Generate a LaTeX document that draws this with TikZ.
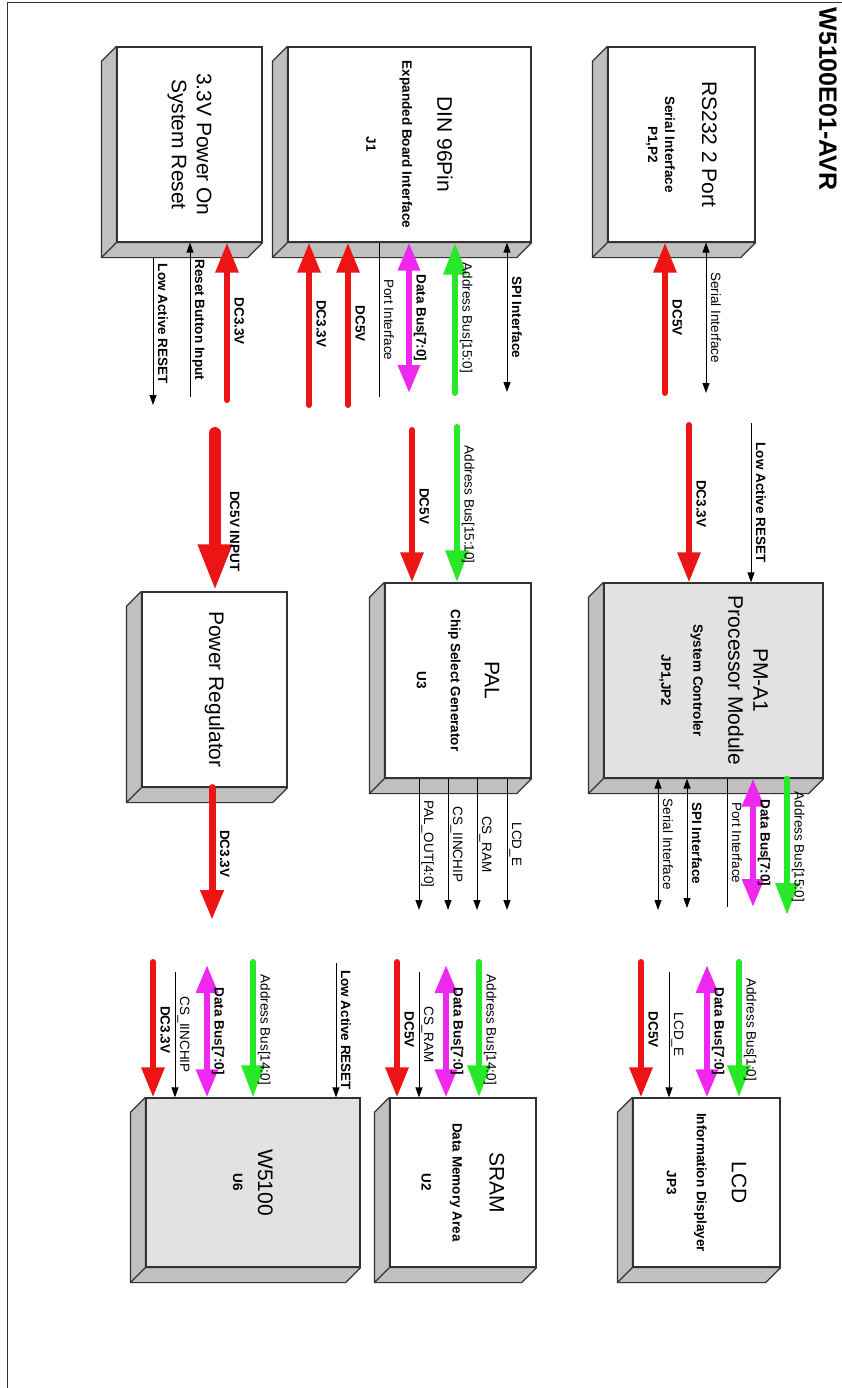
\documentclass[tikz,border=0pt]{standalone}
\usepackage{fontspec}
\setmainfont{Liberation Sans}
\usetikzlibrary{arrows.meta}
\definecolor{pwrred}{RGB}{236,20,20}
\definecolor{busgreen}{RGB}{40,232,40}
\definecolor{busmag}{RGB}{238,40,238}
\definecolor{boxline}{RGB}{50,50,50}
\definecolor{slabgray}{RGB}{192,192,192}
\definecolor{facegray}{RGB}{226,226,226}
\newcommand{\bxsub}[1]{{\fontsize{13.5}{16}\selectfont\bfseries #1}}

\begin{document}
\begin{tikzpicture}[
    x=1pt, y=-1pt,
    >={Triangle[width=7pt,length=10pt]},
    every node/.style={font=\fontsize{13.5}{16}\selectfont},
    blk/.style={draw=boxline, line width=1.2pt, fill=white, rotate=-90,
        inner sep=0pt, align=center, minimum width=195pt,
        font=\fontsize{21}{25}\selectfont},
    slab/.style={draw=boxline, line width=1.2pt, fill=slabgray, line join=round},
    lbl/.style={rotate=-90, anchor=south, inner sep=1.5pt, text depth=3pt},
    bf/.style={lbl, font=\fontsize{13.5}{16}\selectfont\bfseries},
    sig/.style={line width=1pt},
    dc/.style={draw=pwrred, line width=6pt, line cap=round,
        >={Triangle[width=22pt,length=30pt]}, ->},
    dcin/.style={draw=pwrred, line width=12pt, line cap=round,
        >={Triangle[width=31pt,length=47pt]}, ->},
    adrbus/.style={draw=busgreen, line width=6pt, line cap=round,
        >={Triangle[width=22pt,length=32pt]}, ->},
    databus/.style={draw=busmag, line width=6pt,
        >={Triangle[width=21pt,length=28pt]}, <->}
]
\useasboundingbox (0,0) rectangle (842,1388);
\draw[boxline, line width=1pt] (7,1388) -- (7,3) -- (842,3);

\node[rotate=-90, font=\fontsize{25}{30}\selectfont\bfseries] (title) at (828,99) {W5100E01-AVR};

\node[blk, minimum height=147pt] (rs) at (681.5,144.5)
    {RS232 2 Port\\[12pt]\bxsub{Serial Interface}\\[-8pt]\bxsub{P1,P2}};
\node[blk, minimum height=243pt] (din) at (409.5,144.5)
    {DIN 96Pin\\[10pt]\bxsub{Expanded Board Interface}\\[11pt]\bxsub{J1}};
\node[blk, minimum height=145pt] (por) at (189.5,144.5)
    {3.3V Power On\\System Reset};
\node[blk, fill=facegray, minimum height=219pt] (pm) at (713.5,680.5)
    {PM-A1\\Processor Module\\[10pt]\bxsub{System Controler}\\[7pt]\bxsub{JP1,JP2}};
\node[blk, minimum height=146pt] (pal) at (458,680.5)
    {PAL\\[9pt]\bxsub{Chip Select Generator}\\[9pt]\bxsub{U3}};
\node[blk, minimum height=145pt] (reg) at (214.5,689.5) {Power Regulator};
\node[blk, minimum width=169pt, minimum height=147pt] (lcd) at (706.5,1182.5)
    {LCD\\[10pt]\bxsub{Information Displayer}\\[5pt]\bxsub{JP3}};
\node[blk, minimum width=169pt, minimum height=146pt] (ram) at (463,1182.5)
    {SRAM\\[12pt]\bxsub{Data Memory Area}\\[6pt]\bxsub{U2}};
\node[blk, fill=facegray, minimum width=169pt, minimum height=214pt] (w51) at (253,1182.5)
    {W5100\\\bxsub{U6}};

\foreach \b in {rs,din,por,pm,pal,reg,lcd,ram,w51}{
    \filldraw[slab] (\b.south west) -- ++(-15,15)
        -- ([shift={(-15,15)}]\b.south east) -- ([shift={(-15,15)}]\b.north east)
        -- (\b.north east) -- (\b.south east) -- cycle
        (\b.south east) -- ++(-15,15);
}

\coordinate (rs5v) at (665,393);
\coordinate (rsser) at (706,393);
\coordinate (pmrst) at (751,423);
\coordinate (pm33) at (689,425);
\draw[dc] (rs5v) -- node[bf,midway]{DC5V} (rs5v |- rs.east);
\draw[sig,<->] (rs.east -| rsser) -- node[lbl,midway]{Serial Interface} (rsser);
\draw[sig,->] (pmrst) -- node[bf,midway]{Low Active RESET} (pmrst |- pm.west);
\draw[dc] (pm33) -- node[bf,midway]{DC3.3V} (pm33 |- pm.west);

\coordinate (dinspi) at (507,392);
\coordinate (dinadr) at (455,393);
\coordinate (dindat) at (409,393);
\coordinate (dinport) at (379,397);
\coordinate (din5v) at (348,405);
\coordinate (din33) at (309,405);
\draw[sig,<->] (din.east -| dinspi) -- node[bf,midway]{SPI Interface} (dinspi);
\draw[adrbus] (dinadr) -- node[lbl,midway]{Address Bus[15:0]} (dinadr |- din.east);
\draw[databus] (din.east -| dindat) -- node[bf,midway]{Data Bus[7:0]} (dindat);
\draw[sig] (din.east -| dinport) -- node[lbl,midway]{Port Interface} (dinport);
\draw[dc] (din5v) -- node[bf,midway]{DC5V} (din5v |- din.east);
\draw[dc] (din33) -- node[bf,midway]{DC3.3V} (din33 |- din.east);

\coordinate (paladr) at (457,427);
\coordinate (pal5v) at (412,430);
\draw[adrbus] (paladr) -- node[lbl,midway]{Address Bus[15:10]} (paladr |- pal.west);
\draw[dc] (pal5v) -- node[bf,midway]{DC5V} (pal5v |- pal.west);

\coordinate (por33) at (227,400);
\coordinate (porbtn) at (190,397);
\coordinate (porrst) at (153,405);
\draw[dc] (por33) -- node[bf,midway]{DC3.3V} (por33 |- por.east);
\draw[sig,->] (porbtn) -- node[bf,midway]{Reset Button Input} (porbtn |- por.east);
\draw[sig,->,shorten <=15pt] (por.east -| porrst) -- node[bf,midway]{Low Active RESET} (porrst);

\coordinate (reg5v) at (215,433);
\draw[dcin] (reg5v) -- node[bf,pos=0.62,inner sep=6pt]{DC5V INPUT} (reg5v |- reg.west);

\coordinate (pmadr) at (787,915);
\coordinate (pmdat) at (753,907);
\coordinate (pmport) at (727,907);
\coordinate (pmspi) at (687,908);
\coordinate (pmser) at (658,910);
\draw[adrbus] (pm.east -| pmadr) -- node[lbl,midway]{Address Bus[15:0]} (pmadr);
\draw[databus] (pm.east -| pmdat) -- node[bf,midway]{Data Bus[7:0]} (pmdat);
\draw[sig] (pm.east -| pmport) -- node[lbl,midway]{Port Interface} (pmport);
\draw[sig,<->] (pm.east -| pmspi) -- node[bf,midway]{SPI Interface} (pmspi);
\draw[sig,<->] (pm.east -| pmser) -- node[lbl,midway]{Serial Interface} (pmser);

\coordinate (pale) at (507,910);
\coordinate (palram) at (477,910);
\coordinate (palchip) at (448,910);
\coordinate (palout) at (419,910);
\draw[sig,->] (pal.east -| pale) -- node[lbl,midway]{LCD\_E} (pale);
\draw[sig,->] (pal.east -| palram) -- node[lbl,midway]{CS\_RAM} (palram);
\draw[sig,->] (pal.east -| palchip) -- node[lbl,midway]{CS\_IINCHIP} (palchip);
\draw[sig,->] (pal.east -| palout) -- node[lbl,midway]{PAL\_OUT[4:0]} (palout);

\coordinate (reg33) at (212,920);
\draw[dc, line width=7pt] (reg.east -| reg33) -- node[bf,midway]{DC3.3V} (reg33);

\coordinate (lcdadr) at (739,962);
\coordinate (lcddat) at (707,965);
\coordinate (lcde) at (669,972);
\coordinate (lcd5v) at (641,962);
\draw[adrbus] (lcdadr) -- node[lbl,midway]{Address Bus[1:0]} (lcdadr |- lcd.west);
\draw[databus] (lcddat) -- node[bf,midway]{Data Bus[7:0]} (lcddat |- lcd.west);
\draw[sig,->] (lcde) -- node[lbl,midway]{LCD\_E} (lcde |- lcd.west);
\draw[dc] (lcd5v) -- node[bf,midway]{DC5V} (lcd5v |- lcd.west);

\coordinate (ramadr) at (479,962);
\coordinate (ramdat) at (446,965);
\coordinate (ramcs) at (419,972);
\coordinate (ram5v) at (397,962);
\draw[adrbus] (ramadr) -- node[lbl,midway]{Address Bus[14:0]} (ramadr |- ram.west);
\draw[databus] (ramdat) -- node[bf,midway]{Data Bus[7:0]} (ramdat |- ram.west);
\draw[sig,->] (ramcs) -- node[lbl,midway]{CS\_RAM} (ramcs |- ram.west);
\draw[dc] (ram5v) -- node[bf,midway]{DC5V} (ram5v |- ram.west);

\coordinate (wrst) at (336,963);
\coordinate (wadr) at (253,962);
\coordinate (wdat) at (207,965);
\coordinate (wcs) at (175,972);
\coordinate (w33) at (153,962);
\draw[sig,->] (wrst) -- node[bf,midway]{Low Active RESET} (wrst |- w51.west);
\draw[adrbus] (wadr) -- node[lbl,midway]{Address Bus[14:0]} (wadr |- w51.west);
\draw[databus] (wdat) -- node[bf,midway]{Data Bus[7:0]} (wdat |- w51.west);
\draw[sig,->] (wcs) -- node[lbl,midway]{CS\_IINCHIP} (wcs |- w51.west);
\draw[dc] (w33) -- node[bf,midway]{DC3.3V} (w33 |- w51.west);
\end{tikzpicture}
\end{document}
